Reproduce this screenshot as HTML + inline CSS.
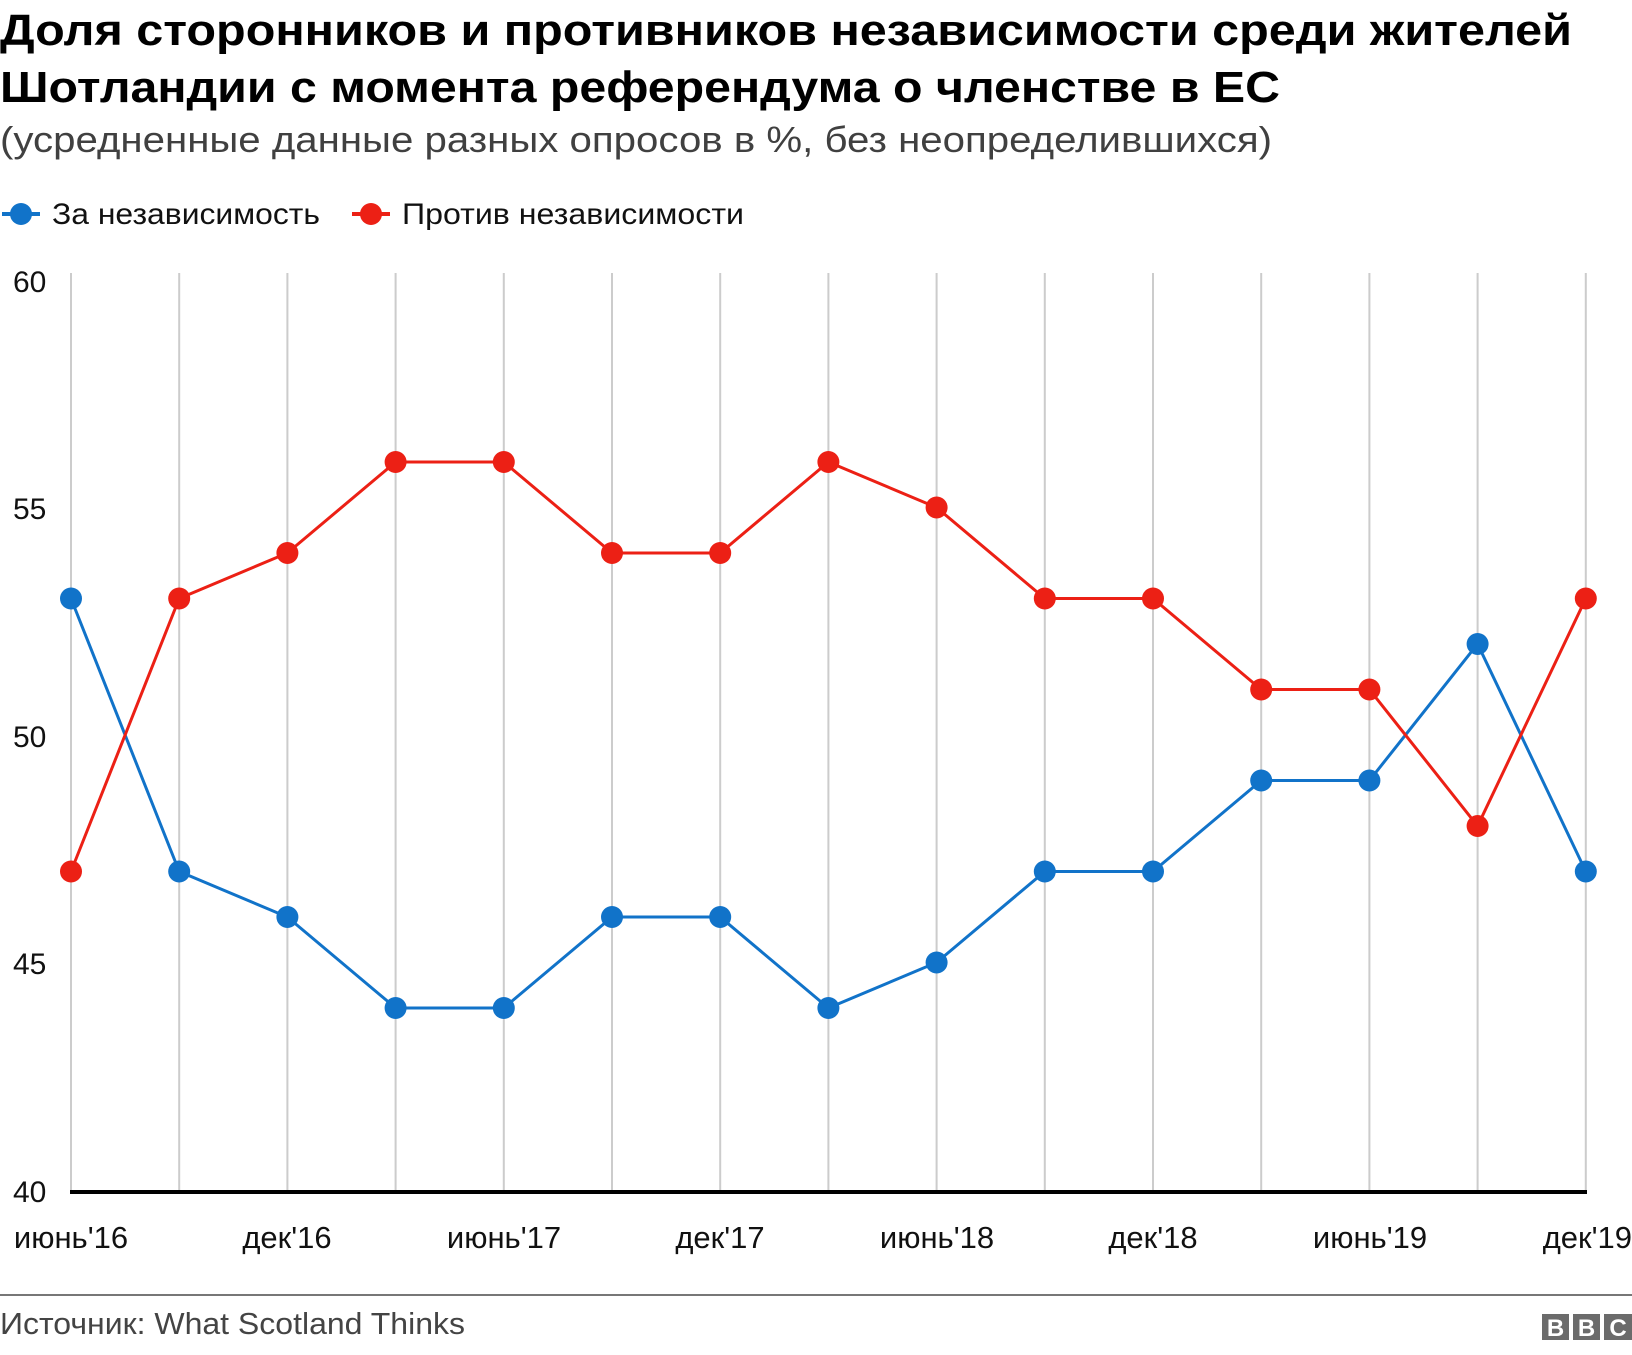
<!DOCTYPE html>
<html><head><meta charset="utf-8"><style>
body{margin:0;background:#fff;width:1632px;height:1350px;overflow:hidden;font-family:"Liberation Sans",Arial,sans-serif}
</style></head><body>
<svg width="1632" height="1350" xmlns="http://www.w3.org/2000/svg" font-family="Liberation Sans, Arial, sans-serif">
<text x="0" y="45" font-size="44" font-weight="bold" fill="#000" textLength="1572" lengthAdjust="spacingAndGlyphs">Доля сторонников и противников независимости среди жителей</text>
<text x="0" y="102" font-size="44" font-weight="bold" fill="#000" textLength="1280" lengthAdjust="spacingAndGlyphs">Шотландии с момента референдума о членстве в ЕС</text>
<text x="0" y="152" font-size="36" fill="#404040" textLength="1272" lengthAdjust="spacingAndGlyphs">(усредненные данные разных опросов в %, без неопределившихся)</text>
<line x1="2" y1="214" x2="40" y2="214" stroke="#1173c9" stroke-width="4"/>
<circle cx="21" cy="214" r="11" fill="#1173c9"/>
<text x="52" y="224" font-size="30" fill="#111" textLength="268" lengthAdjust="spacingAndGlyphs">За независимость</text>
<line x1="352" y1="214" x2="390" y2="214" stroke="#ec2015" stroke-width="4"/>
<circle cx="371" cy="214" r="11" fill="#ec2015"/>
<text x="402" y="224" font-size="30" fill="#111" textLength="342" lengthAdjust="spacingAndGlyphs">Против независимости</text>
<g stroke="#ccc" stroke-width="2" id="grid"></g>
<g font-size="30" fill="#111">
<text x="13" y="292">60</text><text x="13" y="519">55</text><text x="13" y="747">50</text><text x="13" y="974">45</text><text x="13" y="1202">40</text>
</g>
<g font-size="31" fill="#111" text-anchor="middle">
<text x="71" y="1248">июнь'16</text><text x="287" y="1248">дек'16</text><text x="504" y="1248">июнь'17</text><text x="720" y="1248">дек'17</text><text x="937" y="1248">июнь'18</text><text x="1153" y="1248">дек'18</text><text x="1370" y="1248">июнь'19</text><text x="1632" y="1248" text-anchor="end">дек'19</text>
</g>
<g id="plot"></g>
<line x1="70" y1="1192" x2="1587" y2="1192" stroke="#000" stroke-width="4"/>
<line x1="0" y1="1295" x2="1632" y2="1295" stroke="#777" stroke-width="2"/>
<text x="0" y="1334" font-size="31" fill="#444" textLength="465" lengthAdjust="spacingAndGlyphs">Источник: What Scotland Thinks</text>
<g font-size="24" font-weight="bold" fill="#fff" text-anchor="middle">
<rect x="1542" y="1314" width="27" height="26" fill="#6b6b6b"/><text x="1555.5" y="1336">B</text>
<rect x="1573" y="1314" width="27" height="26" fill="#6b6b6b"/><text x="1586.5" y="1336">B</text>
<rect x="1604" y="1314" width="28" height="26" fill="#6b6b6b"/><text x="1618" y="1336">C</text>
</g>
</svg>
<script>
var ns="http://www.w3.org/2000/svg";
function X(i){return 71+i*108.2}
function Y(v){return 1190-(v-40)*45.5}
var g=document.getElementById('grid');
for(var i=0;i<15;i++){var l=document.createElementNS(ns,'line');l.setAttribute('x1',X(i));l.setAttribute('x2',X(i));l.setAttribute('y1',273);l.setAttribute('y2',1192);g.appendChild(l);}
var blue=[53,47,46,44,44,46,46,44,45,47,47,49,49,52,47];
var red=[47,53,54,56,56,54,54,56,55,53,53,51,51,48,53];
var p=document.getElementById('plot');
[[blue,'#1173c9'],[red,'#ec2015']].forEach(function(s){
var pts=s[0].map(function(v,i){return X(i)+','+Y(v)}).join(' ');
var pl=document.createElementNS(ns,'polyline');pl.setAttribute('points',pts);pl.setAttribute('fill','none');pl.setAttribute('stroke',s[1]);pl.setAttribute('stroke-width',3);p.appendChild(pl);
s[0].forEach(function(v,i){var c=document.createElementNS(ns,'circle');c.setAttribute('cx',X(i));c.setAttribute('cy',Y(v));c.setAttribute('r',11);c.setAttribute('fill',s[1]);p.appendChild(c);});
});
</script>
</body></html>
